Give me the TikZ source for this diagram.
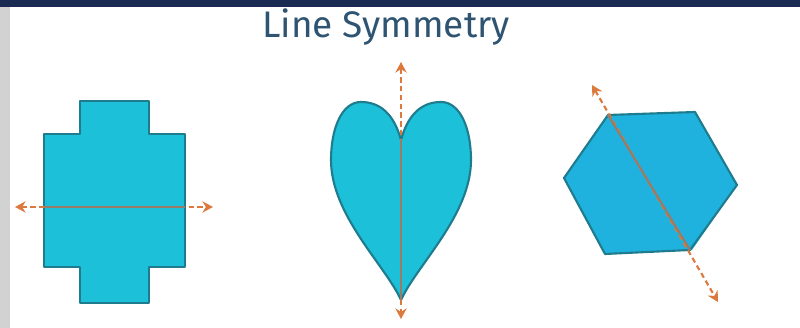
\documentclass[tikz,border=0pt]{standalone}
\usepackage{fontspec}
\setmainfont{Fira Sans}
\usetikzlibrary{arrows.meta}

\definecolor{barnavy}{HTML}{1B2A52}
\definecolor{stripgray}{HTML}{D2D2D2}
\definecolor{titleblue}{HTML}{2E5472}
\definecolor{shapecyan}{HTML}{1CC0D9}
\definecolor{hexcyan}{HTML}{1FB2DE}
\definecolor{shapeedge}{HTML}{1E7C8E}
\definecolor{axisorange}{HTML}{DB7A3C}
\definecolor{axisinner}{HTML}{997B68}

\begin{document}
\begin{tikzpicture}[
    x=0.01cm,
    y=-0.01cm,
    >={Stealth[length=3pt,width=3.2pt]},
    symshape/.style={fill=shapecyan, draw=shapeedge, line width=0.6pt, line join=round},
    axisout/.style={draw=axisorange, line width=0.6pt, dash pattern=on 1.5pt off 1pt, <->},
    axisin/.style={draw=axisinner, line width=0.6pt}
]

% ============================================================
% Rahmen
% ============================================================

\useasboundingbox (0,0) rectangle (800,328);
\fill[white] (0,0) rectangle (800,328);

% Balken oben
\fill[barnavy] (0,0) rectangle (800,7);

% Streifen links
\fill[stripgray] (0,7) rectangle (10,328);

% ============================================================
% Titel
% ============================================================

\node[
    anchor=base,
    text=titleblue,
    font=\fontsize{10.5}{12}\selectfont
] (title) at (386,38) {Line Symmetry};

% ============================================================
% Kreuzform mit waagrechter Achse
% ============================================================

\draw[symshape]
    (80,101) -- (149,101) -- (149,134) -- (185,134) --
    (185,267) -- (149,267) -- (149,303) -- (80,303) --
    (80,267) -- (44,267) -- (44,134) -- (80,134) -- cycle;

\coordinate (CrossL) at (15,207);
\coordinate (CrossR) at (213,207);
\coordinate (CrossInL) at (44,207);
\coordinate (CrossInR) at (185,207);

\draw[axisout] (CrossL) -- (CrossR);
\draw[axisin] (CrossInL) -- (CrossInR);

% ============================================================
% Herz mit senkrechter Achse
% ============================================================

\coordinate (HeartTip) at (401,300);
\coordinate (HeartCleft) at (401,140);

\draw[symshape]
    (HeartCleft)
    .. controls (394,114) and (380,102) .. (361,102)
    .. controls (342,102) and (331,128) .. (331,160)
    .. controls (331,215) and (385,265) .. (HeartTip)
    .. controls (417,265) and (471,215) .. (471,160)
    .. controls (471,128) and (460,102) .. (441,102)
    .. controls (422,102) and (408,114) .. (HeartCleft)
    -- cycle;

\coordinate (HeartTop) at (401,62);
\coordinate (HeartBottom) at (401,319);

\draw[axisout, <-] (HeartTop) -- (HeartCleft);
\draw[axisin] (HeartCleft) -- (HeartTip);
\draw[axisout, ->] (HeartTip) -- (HeartBottom);

% ============================================================
% Sechseck mit schraeger Achse
% ============================================================

\fill[hexcyan] (608,115) -- (695,112) -- (737,185) --
    (692,250) -- (605,254) -- (564,178) -- cycle;
\draw[symshape, fill=hexcyan]
    (608,115) -- (695,112) -- (737,185) --
    (690,250) -- (605,254) -- (564,178) -- cycle;

\coordinate (HexA) at (592,85);
\coordinate (HexB) at (718,302);
\coordinate (HexInA) at (608,115);
\coordinate (HexInB) at (690,250);

\draw[axisout] (HexA) -- (HexB);
\draw[axisin] (HexInA) -- (HexInB);

\end{tikzpicture}
\end{document}
